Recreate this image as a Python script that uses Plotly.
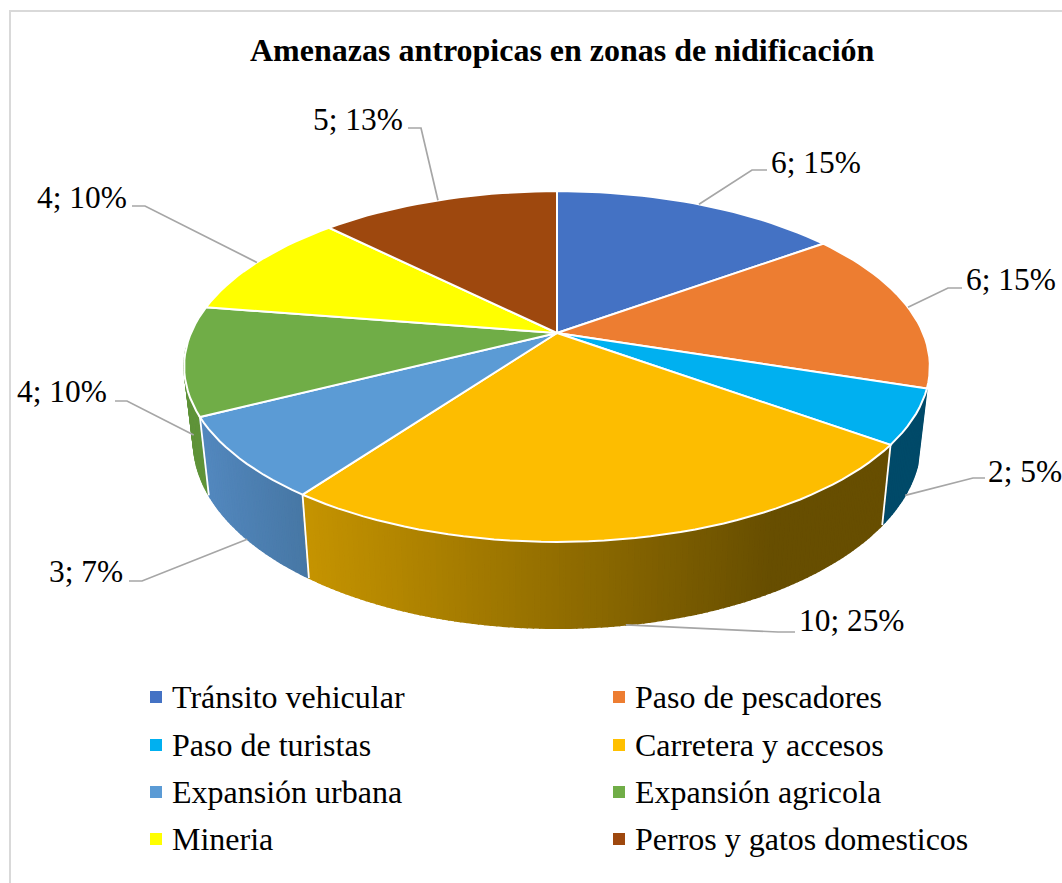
import math
import plotly.graph_objects as go

TITLE = "Amenazas antropicas en zonas de nidificación"
categories = ["Tránsito vehicular", "Paso de pescadores", "Paso de turistas", "Carretera y accesos",
              "Expansión urbana", "Expansión agricola", "Mineria", "Perros y gatos domesticos"]
values = [6, 6, 2, 10, 3, 4, 4, 5]
percents = [15, 15, 5, 25, 7, 10, 10, 13]
colors = ["#4472c4", "#ed7d31", "#00b0f0", "#fdbd00", "#5b9bd5", "#70ad47", "#ffff00", "#9e480e"]
legend_colors = ["#4472c4", "#ed7d31", "#00b0f0", "#ffc000", "#5b9bd5", "#70ad47", "#ffff00", "#9e480e"]

FONT = "Liberation Serif"
CX, CY, A, B, K = 557, 333, 366, 169, 0.191   # perspective of the disc
DX, DY0, DY = 0.975, 73, 1.064                # lower rim relative to upper rim
W, H = 1062, 883


def top(deg):
    t = math.radians(deg)
    u, v = math.sin(t), -math.cos(t)
    d = 1 - K * v
    return CX + A * u / d, CY + B * v / d


def bottom(deg):
    x, y = top(deg)
    return CX + DX * (x - CX), CY + DY0 + DY * (y - CY)


def mix(c1, c2, f):
    f = max(0, min(1, f))
    return "rgb(%d,%d,%d)" % tuple(round(a + (b - a) * f) for a, b in zip(c1, c2))


def side_color(i, x):
    if i == 2:
        return "#004a69"
    if i == 3:
        return mix((198, 148, 0), (103, 78, 0), (x - 303) / (770 - 303))
    if i == 4:
        return mix((82, 135, 189), (70, 118, 163), (x - 209) / (310 - 209))
    return "#5f9339"


def arc(fn, a, b, n):
    return [fn(a + (b - a) * j / n) for j in range(n + 1)]


total = sum(values)
edges = [0]
for v in values:
    edges.append(edges[-1] + 360 * v / total)

fig = go.Figure()


def poly(pts, fill, line=None, lw=0.6):
    fig.add_trace(go.Scatter(x=[p[0] for p in pts] + [pts[0][0]], y=[p[1] for p in pts] + [pts[0][1]],
                             mode="lines", fill="toself", fillcolor=fill,
                             line=dict(color=line or fill, width=lw), hoverinfo="skip", showlegend=False))


def stroke(pts, color="#ffffff", lw=2):
    fig.add_trace(go.Scatter(x=[p[0] for p in pts], y=[p[1] for p in pts], mode="lines",
                             line=dict(color=color, width=lw), hoverinfo="skip", showlegend=False))


# side walls, back to front
side_spans = {5: (edges[5], edges[5] + 22), 4: (edges[4], edges[5]), 2: (edges[2], edges[3]), 3: (edges[3], edges[4])}
for i in (5, 2, 4, 3):
    a, b = side_spans[i]
    n = max(2, round((b - a) / 0.8))
    for j in range(n):
        a1 = a + (b - a) * j / n
        a2 = a + (b - a) * (j + 1) / n
        pts = [top(a1), top(a2), bottom(a2), bottom(a1)]
        xm = sum(p[0] for p in pts) / 4
        poly(pts, side_color(i, xm), lw=1.5)

# joints between side walls
for e in (edges[3], edges[4], edges[5]):
    stroke([top(e), bottom(e)], lw=1.8)

# top faces
for i, color in enumerate(colors):
    n = max(3, round((edges[i + 1] - edges[i]) / 2))
    pts = [(CX, CY)] + arc(top, edges[i], edges[i + 1], n)
    poly(pts, color, "#ffffff", 2)

# leader lines, anchored on the mid angle of every slice
bends = [[(752, 170), (767, 170)], [(948, 288), (962, 288)], [(973, 478), (985, 478)], [(778, 632), (795, 632)],
         [(142, 581), (129, 581)], [(127, 401), (115, 401)], [(145, 206), (132, 206)], [(421, 128), (408, 128)]]
for i in range(len(values)):
    mid = (edges[i] + edges[i + 1]) / 2
    anchor = bottom(mid) if math.cos(math.radians(mid)) < 0 else top(mid)
    stroke([anchor] + bends[i], "#a6a6a6", 1.7)

# frame
stroke([(10, 883), (10, 11), (1062, 11)], "#d9d9d9", 2)

# legend swatches
legend_x = [156, 619] * 4
legend_y = [697, 697, 745, 745, 792, 792, 839, 839]
fig.add_trace(go.Scatter(x=legend_x, y=legend_y, mode="markers",
                         marker=dict(symbol="square", size=12, color=legend_colors, line=dict(width=0)),
                         hoverinfo="skip", showlegend=False))

notes = []
for i, name in enumerate(categories):
    notes.append(dict(x=legend_x[i] + 13.5, y=legend_y[i], text=name, xanchor="left", yanchor="middle",
                      showarrow=False, font=dict(family=FONT, size=32, color="#000000")))

label_x = [769, 964, 986, 797, 47, 15, 35, 311]
label_y = [162, 279, 471, 620, 571, 391, 197, 119]
for i in range(len(values)):
    notes.append(dict(x=label_x[i], y=label_y[i], text=f"{values[i]}; {percents[i]}%", xanchor="left",
                      yanchor="middle", showarrow=False, font=dict(family=FONT, size=31.4, color="#000000")))
notes.append(dict(x=562, y=50, text=f"<b>{TITLE}</b>", xanchor="center", yanchor="middle", showarrow=False,
                  font=dict(family=FONT, size=32, color="#000000")))

fig.update_layout(
    width=W, height=H, margin=dict(l=0, r=0, t=0, b=0), paper_bgcolor="#ffffff", plot_bgcolor="#ffffff",
    xaxis=dict(range=[0, W], visible=False, fixedrange=True),
    yaxis=dict(range=[H, 0], visible=False, fixedrange=True),
    showlegend=False, annotations=notes,
)
fig.write_html("out.html", config={"displayModeBar": False},
               post_script="document.body.style.margin='0';document.documentElement.style.overflow='hidden';")
